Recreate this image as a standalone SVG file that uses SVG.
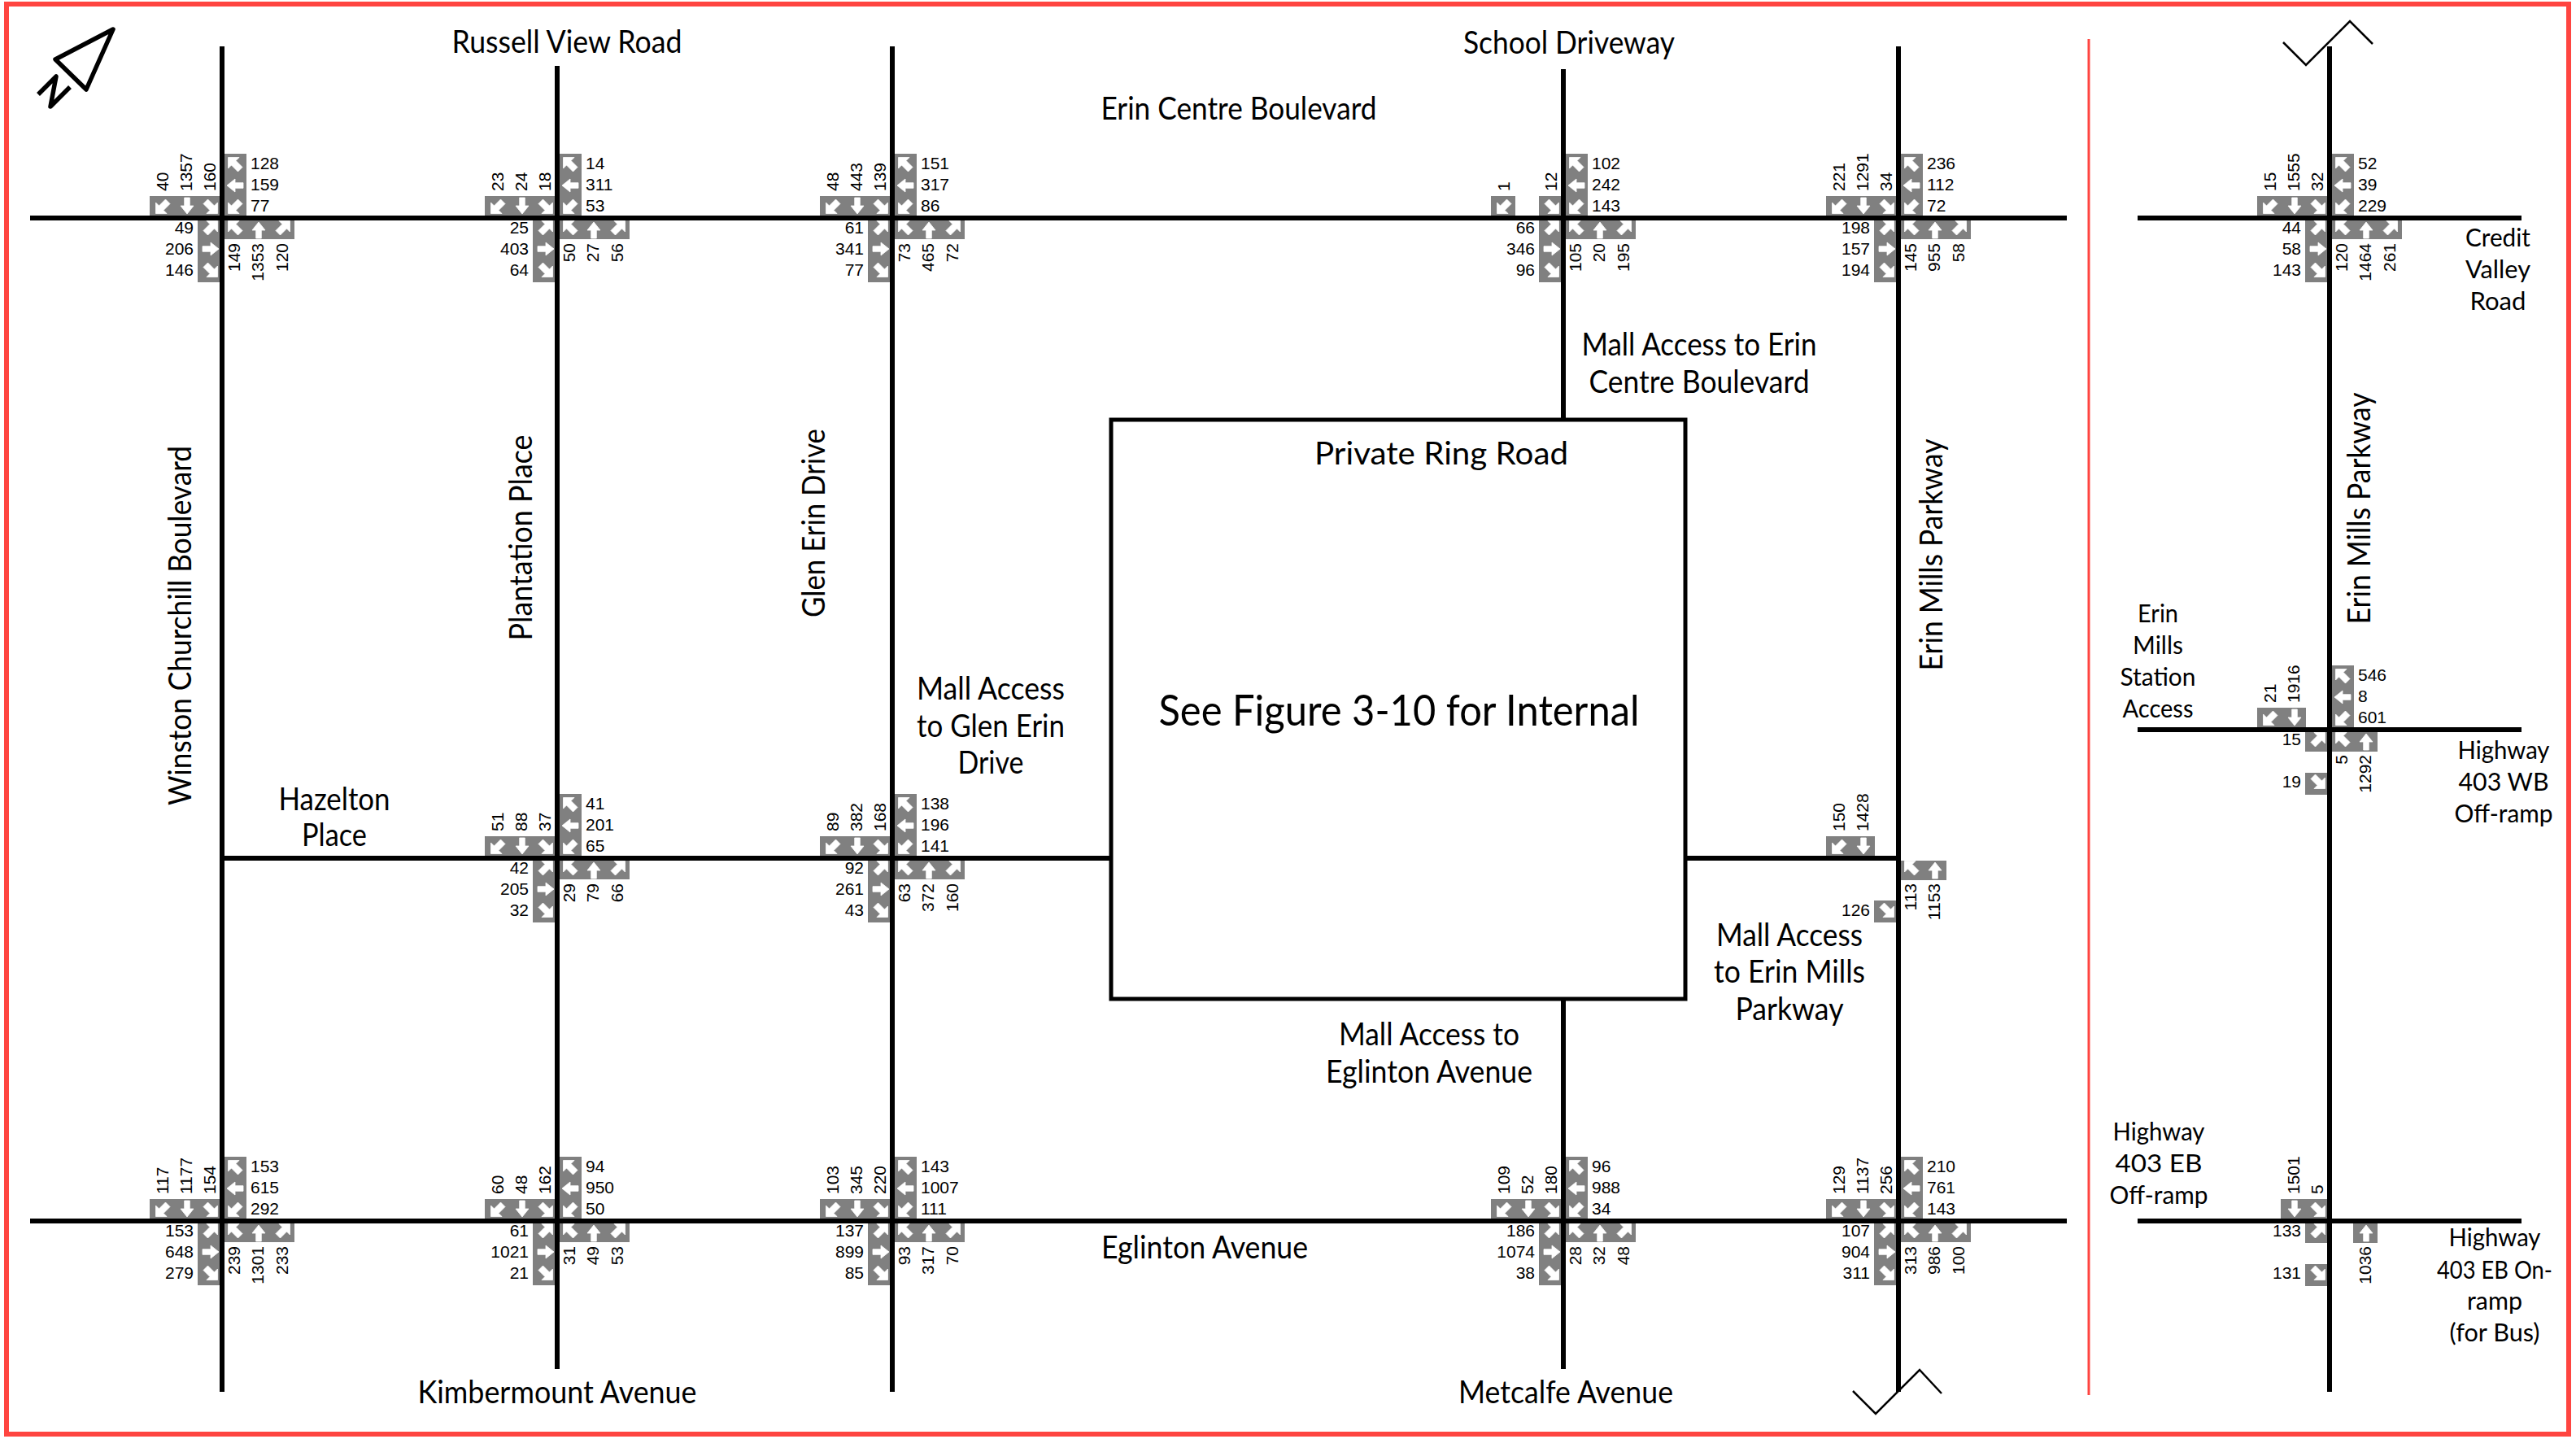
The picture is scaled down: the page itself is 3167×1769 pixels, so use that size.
<svg xmlns="http://www.w3.org/2000/svg" width="3167" height="1769" viewBox="0 0 3167 1769">
<style>
.g{fill:#808080}
.a{fill:#fff;stroke:#fff;stroke-width:.8}
.n{font:21px "Liberation Sans",Arial,sans-serif;fill:#000}
.e{text-anchor:end}
.l{font:400 38px Lato,"Open Sans",sans-serif;fill:#000;text-anchor:middle}
.m{font-size:30px}
.road{stroke:#000;stroke-width:6;fill:none}
.thin{stroke:#000;stroke-width:2.5;fill:none}
.red{stroke:#ff4540;fill:none}
</style>
<defs>
<path id="ne" class="a" d="M8.5,-8.5 L8.5,5 L4.5,1 L-3.5,9 L-9,3.5 L-1,-4.5 L-5,-8.5 Z"/>
<use id="se" href="#ne" transform="rotate(90)"/>
<use id="sw" href="#ne" transform="rotate(180)"/>
<use id="nw" href="#ne" transform="rotate(-90)"/>
<path id="n" class="a" d="M0,-10 L8,0 L3.3,0 L3.3,10 L-3.3,10 L-3.3,0 L-8,0 Z"/>
<use id="s" href="#n" transform="rotate(180)"/>
<use id="e" href="#n" transform="rotate(90)"/>
<use id="w" href="#n" transform="rotate(-90)"/>
<g id="up3"><rect class="g" x="-89" y="-27" width="86" height="24"/><use href="#sw" x="-73" y="-14"/><use href="#s" x="-43" y="-15"/><use href="#se" x="-14" y="-14"/></g>
<g id="rt3"><rect class="g" x="3" y="-79" width="27" height="76"/><use href="#nw" x="16" y="-66"/><use href="#w" x="16" y="-40"/><use href="#sw" x="16" y="-14"/></g>
<g id="dn3"><rect class="g" x="3" y="3" width="86" height="23"/><use href="#nw" x="16" y="12"/><use href="#n" x="45" y="15"/><use href="#ne" x="75" y="12"/></g>
<g id="lf3"><rect class="g" x="-30" y="3" width="27" height="76"/><use href="#ne" x="-14" y="12"/><use href="#e" x="-14" y="38"/><use href="#se" x="-14" y="64"/></g>
<g id="full"><use href="#up3"/><use href="#rt3"/><use href="#dn3"/><use href="#lf3"/></g>
</defs>
<rect width="3167" height="1769" fill="#fff"/>
<rect class="red" x="8" y="5" width="3150" height="1758" stroke-width="6"/>
<line class="red" x1="2568" y1="48" x2="2568" y2="1715" stroke-width="3"/>
<g id="north-arrow"><path d="M139,36 L68,73 L106,110 Z" fill="none" stroke="#000" stroke-width="5.5" stroke-linejoin="round"/><path d="M47,116 L69,94 L62,131 L86,107" fill="none" stroke="#000" stroke-width="5.5" stroke-linejoin="round"/></g>

<g id="connectors">
<path class="road" d="M37,268H2541M2628,268H3100M2628,897H3100M37,1501H2541M2628,1501H3100M273,1055H1366M2072,1055H2334"/>
<path class="road" d="M273,57V1711M685,81V1683M1097,57V1711M1922,85V516M1922,1228V1683M2334,57V1711M2864,57V1711"/>
<path class="thin" d="M2807,52L2835,80L2889,26L2917,54M2278,1710L2306,1738L2360,1684L2387,1713"/>
</g>
<g id="ring"><rect x="1366" y="516" width="706" height="712" fill="none" stroke="#000" stroke-width="5"/></g>

<g id="i1" transform="translate(273,268)"><use href="#full"/>
<text class="n" transform="translate(-66,-33) rotate(-90)">40</text><text class="n" transform="translate(-37,-33) rotate(-90)">1357</text><text class="n" transform="translate(-8,-33) rotate(-90)">160</text>
<text class="n" x="35" y="-60">128</text><text class="n" x="35" y="-34">159</text><text class="n" x="35" y="-8">77</text>
<text class="n e" x="-35" y="19">49</text><text class="n e" x="-35" y="45">206</text><text class="n e" x="-35" y="71">146</text>
<text class="n e" transform="translate(22,31) rotate(-90)">149</text><text class="n e" transform="translate(51,31) rotate(-90)">1353</text><text class="n e" transform="translate(81,31) rotate(-90)">120</text></g>

<g id="i2" transform="translate(685,268)"><use href="#full"/>
<text class="n" transform="translate(-66,-33) rotate(-90)">23</text><text class="n" transform="translate(-37,-33) rotate(-90)">24</text><text class="n" transform="translate(-8,-33) rotate(-90)">18</text>
<text class="n" x="35" y="-60">14</text><text class="n" x="35" y="-34">311</text><text class="n" x="35" y="-8">53</text>
<text class="n e" x="-35" y="19">25</text><text class="n e" x="-35" y="45">403</text><text class="n e" x="-35" y="71">64</text>
<text class="n e" transform="translate(22,31) rotate(-90)">50</text><text class="n e" transform="translate(51,31) rotate(-90)">27</text><text class="n e" transform="translate(81,31) rotate(-90)">56</text></g>

<g id="i3" transform="translate(1097,268)"><use href="#full"/>
<text class="n" transform="translate(-66,-33) rotate(-90)">48</text><text class="n" transform="translate(-37,-33) rotate(-90)">443</text><text class="n" transform="translate(-8,-33) rotate(-90)">139</text>
<text class="n" x="35" y="-60">151</text><text class="n" x="35" y="-34">317</text><text class="n" x="35" y="-8">86</text>
<text class="n e" x="-35" y="19">61</text><text class="n e" x="-35" y="45">341</text><text class="n e" x="-35" y="71">77</text>
<text class="n e" transform="translate(22,31) rotate(-90)">73</text><text class="n e" transform="translate(51,31) rotate(-90)">465</text><text class="n e" transform="translate(81,31) rotate(-90)">72</text></g>

<g id="i4" transform="translate(1922,268)"><rect class="g" x="-89" y="-27" width="30" height="24"/><use href="#sw" x="-73" y="-14"/><rect class="g" x="-30" y="-27" width="27" height="24"/><use href="#se" x="-14" y="-14"/><use href="#rt3"/><use href="#dn3"/><use href="#lf3"/>
<text class="n" transform="translate(-66,-33) rotate(-90)">1</text><text class="n" transform="translate(-8,-33) rotate(-90)">12</text>
<text class="n" x="35" y="-60">102</text><text class="n" x="35" y="-34">242</text><text class="n" x="35" y="-8">143</text>
<text class="n e" x="-35" y="19">66</text><text class="n e" x="-35" y="45">346</text><text class="n e" x="-35" y="71">96</text>
<text class="n e" transform="translate(22,31) rotate(-90)">105</text><text class="n e" transform="translate(51,31) rotate(-90)">20</text><text class="n e" transform="translate(81,31) rotate(-90)">195</text></g>

<g id="i5" transform="translate(2334,268)"><use href="#full"/>
<text class="n" transform="translate(-66,-33) rotate(-90)">221</text><text class="n" transform="translate(-37,-33) rotate(-90)">1291</text><text class="n" transform="translate(-8,-33) rotate(-90)">34</text>
<text class="n" x="35" y="-60">236</text><text class="n" x="35" y="-34">112</text><text class="n" x="35" y="-8">72</text>
<text class="n e" x="-35" y="19">198</text><text class="n e" x="-35" y="45">157</text><text class="n e" x="-35" y="71">194</text>
<text class="n e" transform="translate(22,31) rotate(-90)">145</text><text class="n e" transform="translate(51,31) rotate(-90)">955</text><text class="n e" transform="translate(81,31) rotate(-90)">58</text></g>

<g id="i6" transform="translate(2864,268)"><use href="#full"/>
<text class="n" transform="translate(-66,-33) rotate(-90)">15</text><text class="n" transform="translate(-37,-33) rotate(-90)">1555</text><text class="n" transform="translate(-8,-33) rotate(-90)">32</text>
<text class="n" x="35" y="-60">52</text><text class="n" x="35" y="-34">39</text><text class="n" x="35" y="-8">229</text>
<text class="n e" x="-35" y="19">44</text><text class="n e" x="-35" y="45">58</text><text class="n e" x="-35" y="71">143</text>
<text class="n e" transform="translate(22,31) rotate(-90)">120</text><text class="n e" transform="translate(51,31) rotate(-90)">1464</text><text class="n e" transform="translate(81,31) rotate(-90)">261</text></g>

<g id="i7" transform="translate(685,1055)"><use href="#full"/>
<text class="n" transform="translate(-66,-33) rotate(-90)">51</text><text class="n" transform="translate(-37,-33) rotate(-90)">88</text><text class="n" transform="translate(-8,-33) rotate(-90)">37</text>
<text class="n" x="35" y="-60">41</text><text class="n" x="35" y="-34">201</text><text class="n" x="35" y="-8">65</text>
<text class="n e" x="-35" y="19">42</text><text class="n e" x="-35" y="45">205</text><text class="n e" x="-35" y="71">32</text>
<text class="n e" transform="translate(22,31) rotate(-90)">29</text><text class="n e" transform="translate(51,31) rotate(-90)">79</text><text class="n e" transform="translate(81,31) rotate(-90)">66</text></g>

<g id="i8" transform="translate(1097,1055)"><use href="#full"/>
<text class="n" transform="translate(-66,-33) rotate(-90)">89</text><text class="n" transform="translate(-37,-33) rotate(-90)">382</text><text class="n" transform="translate(-8,-33) rotate(-90)">168</text>
<text class="n" x="35" y="-60">138</text><text class="n" x="35" y="-34">196</text><text class="n" x="35" y="-8">141</text>
<text class="n e" x="-35" y="19">92</text><text class="n e" x="-35" y="45">261</text><text class="n e" x="-35" y="71">43</text>
<text class="n e" transform="translate(22,31) rotate(-90)">63</text><text class="n e" transform="translate(51,31) rotate(-90)">372</text><text class="n e" transform="translate(81,31) rotate(-90)">160</text></g>

<g id="i9" transform="translate(2334,1055)"><rect class="g" x="-89" y="-27" width="60" height="24"/><use href="#sw" x="-73" y="-14"/><use href="#s" x="-43" y="-15"/>
<rect class="g" x="3" y="3" width="56" height="24"/><use href="#nw" x="16" y="12"/><use href="#n" x="45" y="15"/>
<rect class="g" x="-30" y="52" width="27" height="27"/><use href="#se" x="-14" y="64"/>
<text class="n" transform="translate(-66,-33) rotate(-90)">150</text><text class="n" transform="translate(-37,-33) rotate(-90)">1428</text>
<text class="n e" x="-35" y="71">126</text>
<text class="n e" transform="translate(22,31) rotate(-90)">113</text><text class="n e" transform="translate(51,31) rotate(-90)">1153</text></g>

<g id="i10" transform="translate(2864,897)"><rect class="g" x="-89" y="-27" width="60" height="24"/><use href="#sw" x="-73" y="-14"/><use href="#s" x="-43" y="-15"/><use href="#rt3"/>
<rect class="g" x="3" y="3" width="56" height="24"/><use href="#nw" x="16" y="12"/><use href="#n" x="45" y="15"/>
<rect class="g" x="-30" y="3" width="27" height="24"/><use href="#ne" x="-14" y="12"/><rect class="g" x="-30" y="53" width="27" height="27"/><use href="#se" x="-14" y="64"/>
<text class="n" transform="translate(-66,-33) rotate(-90)">21</text><text class="n" transform="translate(-37,-33) rotate(-90)">1916</text>
<text class="n" x="35" y="-60">546</text><text class="n" x="35" y="-34">8</text><text class="n" x="35" y="-8">601</text>
<text class="n e" x="-35" y="19">15</text><text class="n e" x="-35" y="71">19</text>
<text class="n e" transform="translate(22,31) rotate(-90)">5</text><text class="n e" transform="translate(51,31) rotate(-90)">1292</text></g>

<g id="i11" transform="translate(273,1501)"><use href="#full"/>
<text class="n" transform="translate(-66,-33) rotate(-90)">117</text><text class="n" transform="translate(-37,-33) rotate(-90)">1177</text><text class="n" transform="translate(-8,-33) rotate(-90)">154</text>
<text class="n" x="35" y="-60">153</text><text class="n" x="35" y="-34">615</text><text class="n" x="35" y="-8">292</text>
<text class="n e" x="-35" y="19">153</text><text class="n e" x="-35" y="45">648</text><text class="n e" x="-35" y="71">279</text>
<text class="n e" transform="translate(22,31) rotate(-90)">239</text><text class="n e" transform="translate(51,31) rotate(-90)">1301</text><text class="n e" transform="translate(81,31) rotate(-90)">233</text></g>

<g id="i12" transform="translate(685,1501)"><use href="#full"/>
<text class="n" transform="translate(-66,-33) rotate(-90)">60</text><text class="n" transform="translate(-37,-33) rotate(-90)">48</text><text class="n" transform="translate(-8,-33) rotate(-90)">162</text>
<text class="n" x="35" y="-60">94</text><text class="n" x="35" y="-34">950</text><text class="n" x="35" y="-8">50</text>
<text class="n e" x="-35" y="19">61</text><text class="n e" x="-35" y="45">1021</text><text class="n e" x="-35" y="71">21</text>
<text class="n e" transform="translate(22,31) rotate(-90)">31</text><text class="n e" transform="translate(51,31) rotate(-90)">49</text><text class="n e" transform="translate(81,31) rotate(-90)">53</text></g>

<g id="i13" transform="translate(1097,1501)"><use href="#full"/>
<text class="n" transform="translate(-66,-33) rotate(-90)">103</text><text class="n" transform="translate(-37,-33) rotate(-90)">345</text><text class="n" transform="translate(-8,-33) rotate(-90)">220</text>
<text class="n" x="35" y="-60">143</text><text class="n" x="35" y="-34">1007</text><text class="n" x="35" y="-8">111</text>
<text class="n e" x="-35" y="19">137</text><text class="n e" x="-35" y="45">899</text><text class="n e" x="-35" y="71">85</text>
<text class="n e" transform="translate(22,31) rotate(-90)">93</text><text class="n e" transform="translate(51,31) rotate(-90)">317</text><text class="n e" transform="translate(81,31) rotate(-90)">70</text></g>

<g id="i14" transform="translate(1922,1501)"><use href="#full"/>
<text class="n" transform="translate(-66,-33) rotate(-90)">109</text><text class="n" transform="translate(-37,-33) rotate(-90)">52</text><text class="n" transform="translate(-8,-33) rotate(-90)">180</text>
<text class="n" x="35" y="-60">96</text><text class="n" x="35" y="-34">988</text><text class="n" x="35" y="-8">34</text>
<text class="n e" x="-35" y="19">186</text><text class="n e" x="-35" y="45">1074</text><text class="n e" x="-35" y="71">38</text>
<text class="n e" transform="translate(22,31) rotate(-90)">28</text><text class="n e" transform="translate(51,31) rotate(-90)">32</text><text class="n e" transform="translate(81,31) rotate(-90)">48</text></g>

<g id="i15" transform="translate(2334,1501)"><use href="#full"/>
<text class="n" transform="translate(-66,-33) rotate(-90)">129</text><text class="n" transform="translate(-37,-33) rotate(-90)">1137</text><text class="n" transform="translate(-8,-33) rotate(-90)">256</text>
<text class="n" x="35" y="-60">210</text><text class="n" x="35" y="-34">761</text><text class="n" x="35" y="-8">143</text>
<text class="n e" x="-35" y="19">107</text><text class="n e" x="-35" y="45">904</text><text class="n e" x="-35" y="71">311</text>
<text class="n e" transform="translate(22,31) rotate(-90)">313</text><text class="n e" transform="translate(51,31) rotate(-90)">986</text><text class="n e" transform="translate(81,31) rotate(-90)">100</text></g>

<g id="i16" transform="translate(2864,1501)"><rect class="g" x="-60" y="-27" width="57" height="24"/><use href="#s" x="-43" y="-15"/><use href="#se" x="-14" y="-14"/>
<rect class="g" x="-30" y="3" width="27" height="24"/><use href="#ne" x="-14" y="12"/><rect class="g" x="-30" y="53" width="27" height="27"/><use href="#se" x="-14" y="64"/>
<rect class="g" x="29" y="3" width="30" height="24"/><use href="#n" x="45" y="15"/>
<text class="n" transform="translate(-37,-33) rotate(-90)">1501</text><text class="n" transform="translate(-8,-33) rotate(-90)">5</text>
<text class="n e" x="-35" y="19">133</text><text class="n e" x="-35" y="71">131</text>
<text class="n e" transform="translate(51,31) rotate(-90)">1036</text></g>

<g id="labels">
<text class="l" x="697" y="65" textLength="283" lengthAdjust="spacingAndGlyphs">Russell View Road</text>
<text class="l" x="1929" y="66" textLength="260" lengthAdjust="spacingAndGlyphs">School Driveway</text>
<text class="l" x="1523" y="147" textLength="339" lengthAdjust="spacingAndGlyphs">Erin Centre Boulevard</text>
<text class="l" x="2089" y="437" textLength="289" lengthAdjust="spacingAndGlyphs">Mall Access to Erin</text>
<text class="l" x="2089" y="483" textLength="271" lengthAdjust="spacingAndGlyphs">Centre Boulevard</text>
<text class="l" x="1772" y="571" textLength="312" lengthAdjust="spacingAndGlyphs">Private Ring Road</text>
<text class="l" x="1720" y="892" style="font-size:53px" textLength="591" lengthAdjust="spacingAndGlyphs">See Figure 3-10 for Internal</text>
<text class="l" transform="translate(235,769) rotate(-90)" textLength="442" lengthAdjust="spacingAndGlyphs">Winston Churchill Boulevard</text>
<text class="l" transform="translate(654,661) rotate(-90)" textLength="253" lengthAdjust="spacingAndGlyphs">Plantation Place</text>
<text class="l" transform="translate(1014,643) rotate(-90)" textLength="232" lengthAdjust="spacingAndGlyphs">Glen Erin Drive</text>
<text class="l" transform="translate(2388,682) rotate(-90)" textLength="285" lengthAdjust="spacingAndGlyphs">Erin Mills Parkway</text>
<text class="l" transform="translate(2914,625) rotate(-90)" textLength="285" lengthAdjust="spacingAndGlyphs">Erin Mills Parkway</text>
<text class="l" x="411" y="996" textLength="137" lengthAdjust="spacingAndGlyphs">Hazelton</text>
<text class="l" x="411" y="1040" textLength="80" lengthAdjust="spacingAndGlyphs">Place</text>
<text class="l" x="1218" y="860" textLength="182" lengthAdjust="spacingAndGlyphs">Mall Access</text>
<text class="l" x="1218" y="906" textLength="182" lengthAdjust="spacingAndGlyphs">to Glen Erin</text>
<text class="l" x="1218" y="951" textLength="81" lengthAdjust="spacingAndGlyphs">Drive</text>
<text class="l" x="2200" y="1163" textLength="180" lengthAdjust="spacingAndGlyphs">Mall Access</text>
<text class="l" x="2200" y="1208" textLength="186" lengthAdjust="spacingAndGlyphs">to Erin Mills</text>
<text class="l" x="2200" y="1254" textLength="133" lengthAdjust="spacingAndGlyphs">Parkway</text>
<text class="l" x="1757" y="1285" textLength="222" lengthAdjust="spacingAndGlyphs">Mall Access to</text>
<text class="l" x="1757" y="1331" textLength="254" lengthAdjust="spacingAndGlyphs">Eglinton Avenue</text>
<text class="l" x="1481" y="1547" textLength="254" lengthAdjust="spacingAndGlyphs">Eglinton Avenue</text>
<text class="l" x="685" y="1725" textLength="343" lengthAdjust="spacingAndGlyphs">Kimbermount Avenue</text>
<text class="l" x="1925" y="1725" textLength="264" lengthAdjust="spacingAndGlyphs">Metcalfe Avenue</text>
<text class="l m" x="3071" y="303" textLength="80" lengthAdjust="spacingAndGlyphs">Credit</text>
<text class="l m" x="3071" y="342" textLength="80" lengthAdjust="spacingAndGlyphs">Valley</text>
<text class="l m" x="3071" y="381" textLength="69" lengthAdjust="spacingAndGlyphs">Road</text>
<text class="l m" x="2653" y="765" textLength="50" lengthAdjust="spacingAndGlyphs">Erin</text>
<text class="l m" x="2653" y="804" textLength="62" lengthAdjust="spacingAndGlyphs">Mills</text>
<text class="l m" x="2653" y="843" textLength="93" lengthAdjust="spacingAndGlyphs">Station</text>
<text class="l m" x="2653" y="882" textLength="87" lengthAdjust="spacingAndGlyphs">Access</text>
<text class="l m" x="3078" y="933" textLength="113" lengthAdjust="spacingAndGlyphs">Highway</text>
<text class="l m" x="3078" y="972" textLength="111" lengthAdjust="spacingAndGlyphs">403 WB</text>
<text class="l m" x="3078" y="1011" textLength="121" lengthAdjust="spacingAndGlyphs">Off-ramp</text>
<text class="l m" x="2654" y="1402" textLength="113" lengthAdjust="spacingAndGlyphs">Highway</text>
<text class="l m" x="2654" y="1441" textLength="107" lengthAdjust="spacingAndGlyphs">403 EB</text>
<text class="l m" x="2654" y="1480" textLength="121" lengthAdjust="spacingAndGlyphs">Off-ramp</text>
<text class="l m" x="3067" y="1532" textLength="113" lengthAdjust="spacingAndGlyphs">Highway</text>
<text class="l m" x="3067" y="1572" textLength="142" lengthAdjust="spacingAndGlyphs">403 EB On-</text>
<text class="l m" x="3067" y="1610" textLength="68" lengthAdjust="spacingAndGlyphs">ramp</text>
<text class="l m" x="3067" y="1649" textLength="111" lengthAdjust="spacingAndGlyphs">(for Bus)</text>
</g>
</svg>
